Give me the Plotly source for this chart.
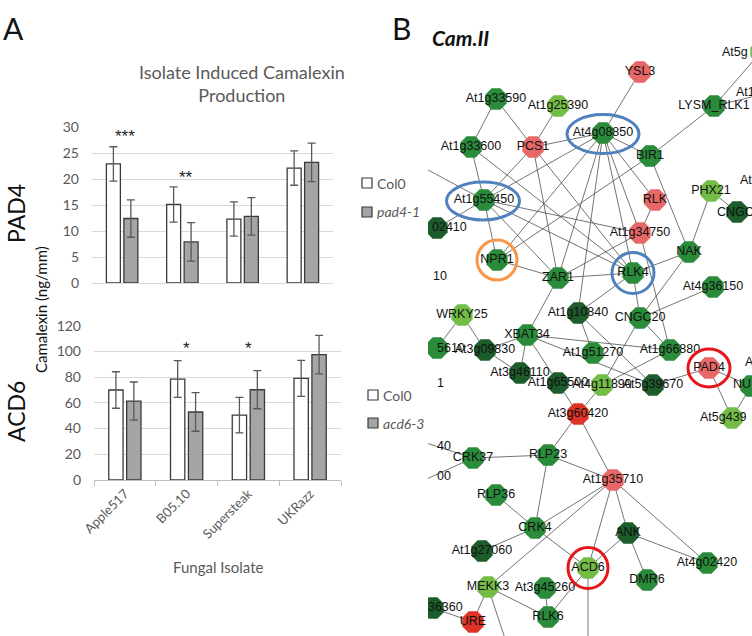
import plotly.graph_objects as go

W, H = 752, 636

# ---------------- Panel A data ----------------
isolates = ["Apple517", "B05.10", "Supersteak", "UKRazz"]
pad4_col0 = [22.9, 15.1, 12.3, 22.1]
pad4_col0_err = [3.3, 3.4, 3.3, 3.3]
pad4_mut = [12.4, 7.9, 12.8, 23.2]
pad4_mut_err = [3.6, 3.7, 3.6, 3.7]
acd6_col0 = [70.0, 78.5, 50.5, 79.1]
acd6_col0_err = [14.2, 14.3, 13.8, 14.0]
acd6_mut = [61.4, 52.9, 70.2, 97.5]
acd6_mut_err = [14.8, 15.0, 14.8, 15.0]
pad4_sig = [("Apple517", 28.1, "***", 3), ("B05.10", 20.2, "**", 4)]
acd6_sig = [("B05.10", 102.4, "*", 0), ("Supersteak", 102.4, "*", 0), ("UKRazz", 122.3, "*", -4)]
pad4_ticks = [0, 5, 10, 15, 20, 25, 30]
acd6_ticks = [0, 20, 40, 60, 80, 100, 120]

# ---------------- Panel B data (network, layout coordinates) ----------------
node_names = ["YSL3", "At1g33590", "At1g25390", "At1g33600", "PCS1", "At4g08850", "BIR1",
              "LYSM_RLK1", "At5g_top", "At1g55450", "RLK", "PHX21", "nCNGC", "n02410",
              "NPR1", "ZAR1", "At1g34750", "RLK4", "NAK", "At4g36150", "At1g10840", "CNGC20",
              "WRKY25", "n5610", "XBAT34", "At3g09830", "At1g51270", "At1g66880", "PAD4", "nNU",
              "At3g46110", "At1g65500", "At4g11890", "At5g39670", "At3g60420", "At5g439",
              "RLP23", "CRK37", "At1g35710", "RLP36", "CRK4", "ANK", "At1g27060", "ACD6",
              "At4g02420", "DMR6", "MEKK3", "At3g45260", "RLK6", "n36360", "URE"]
node_x = [640, 496, 558, 471, 533, 603, 650,
          714, 761, 484, 655, 711, 737, 437,
          497, 558, 640, 633, 689, 713, 578, 640,
          462, 437, 527, 485, 593, 670, 709, 751,
          520, 558, 602, 653, 578, 732,
          548, 473, 613, 496, 535, 628, 482, 588,
          707, 647, 488, 545, 548, 433, 473]
node_y = [72, 99, 106, 147, 147, 133, 156,
          106, 52, 200, 200, 191, 212, 228,
          260, 278, 233, 273, 252, 287, 313, 318,
          315, 348, 335, 350, 353, 350, 368, 386,
          373, 383, 385, 385, 414, 418,
          455, 458, 480, 495, 528, 533, 551, 568,
          563, 580, 587, 588, 617, 608, 622]
node_group = ["R", "G", "L", "G", "R", "G", "G",
              "G", "L", "G", "R", "L", "D", "D",
              "G", "G", "R", "G", "G", "G", "D", "G",
              "L", "G", "G", "D", "G", "G", "R", "G",
              "D", "D", "L", "D", "RR", "L",
              "G", "G", "R", "G", "G", "D", "D", "L",
              "G", "G", "L", "G", "G", "D", "RR"]
unlabeled = {"At5g_top", "nCNGC", "n02410", "n5610", "nNU", "At5g439", "n36360"}

# partially visible labels of nodes cut by the panel edge (left anchored)
frag_text = ["At5g", "At1", "At", "CNGC", "02410", "10", "5610", "1", "A", "NU",
             "At5g439", "40", "00", "g36360"]
frag_x = [722, 736, 740, 717, 432, 433, 437, 437, 745, 733, 700, 437, 437, 421]
frag_y = [53, 93, 181, 213, 228, 277, 349, 384, 363, 385, 418, 447, 477, 608]

anchor_names = ["off_r1", "off_l1", "off_l40", "off_l00", "off_b1", "off_b2"]
anchor_x = [790, 415, 420, 420, 588, 512]
anchor_y = [88, 163, 441, 482, 660, 660]

edges = [("YSL3", "At4g08850"), ("At1g33590", "At1g33600"), ("At1g33590", "PCS1"),
         ("At1g25390", "PCS1"), ("PCS1", "At4g08850"), ("PCS1", "At1g55450"),
         ("PCS1", "ZAR1"), ("PCS1", "RLK4"), ("At1g33600", "At1g55450"),
         ("At1g33600", "RLK4"), ("At4g08850", "BIR1"), ("At4g08850", "At1g55450"),
         ("At4g08850", "ZAR1"), ("At4g08850", "At1g10840"), ("At4g08850", "RLK4"),
         ("At4g08850", "At1g34750"), ("At4g08850", "RLK"), ("At4g08850", "NPR1"),
         ("BIR1", "LYSM_RLK1"), ("BIR1", "NPR1"), ("BIR1", "NAK"),
         ("LYSM_RLK1", "At5g_top"), ("LYSM_RLK1", "off_r1"), ("off_l1", "At1g55450"),
         ("At1g55450", "n02410"), ("At1g55450", "NPR1"), ("At1g55450", "ZAR1"),
         ("At1g55450", "RLK4"), ("At1g55450", "At1g34750"), ("RLK", "At1g34750"),
         ("At1g34750", "ZAR1"), ("At1g34750", "At1g66880"), ("NPR1", "ZAR1"),
         ("ZAR1", "RLK4"), ("ZAR1", "XBAT34"), ("RLK4", "NAK"), ("RLK4", "CNGC20"),
         ("RLK4", "At1g10840"), ("NAK", "CNGC20"), ("PHX21", "NAK"), ("PHX21", "nCNGC"),
         ("At4g36150", "CNGC20"), ("CNGC20", "At4g11890"), ("CNGC20", "At1g66880"),
         ("At1g10840", "At1g51270"), ("At1g10840", "At5g39670"), ("XBAT34", "At1g66880"),
         ("XBAT34", "At3g09830"), ("XBAT34", "At3g46110"), ("XBAT34", "At1g65500"),
         ("XBAT34", "At5g39670"), ("WRKY25", "At3g09830"), ("WRKY25", "n5610"),
         ("At3g09830", "At3g46110"), ("At4g11890", "At1g66880"), ("At4g11890", "At3g60420"),
         ("At1g65500", "At3g60420"), ("At5g39670", "PAD4"), ("PAD4", "nNU"),
         ("PAD4", "At5g439"), ("At5g439", "nNU"), ("At3g60420", "RLP23"),
         ("At3g60420", "At1g35710"), ("RLP23", "CRK37"), ("RLP23", "At1g35710"),
         ("RLP23", "CRK4"), ("CRK37", "off_l40"), ("CRK37", "off_l00"),
         ("At1g35710", "CRK4"), ("At1g35710", "MEKK3"), ("At1g35710", "ACD6"),
         ("At1g35710", "ANK"), ("At1g35710", "At4g02420"), ("RLP36", "CRK4"),
         ("CRK4", "At1g27060"), ("CRK4", "ACD6"), ("ANK", "ACD6"), ("ANK", "DMR6"),
         ("ANK", "At4g02420"), ("ACD6", "RLK6"), ("ACD6", "off_b1"), ("MEKK3", "RLK6"),
         ("MEKK3", "URE"), ("MEKK3", "off_b2"), ("At3g45260", "RLK6"), ("n36360", "URE")]

# highlighted genes: (node, colour, x-radius, y-radius)
highlights = [("At4g08850", "#4f81bd", 36, 19.5), ("At1g55450", "#4f81bd", 36.5, 19),
              ("NPR1", "#f79646", 20, 20), ("RLK4", "#4f81bd", 21, 20.5),
              ("PAD4", "#e8141b", 21, 19), ("ACD6", "#e8141b", 20, 20.5)]
highlight_offset = {"At4g08850": (0, 1), "At1g55450": (-1, 1)}

# ---------------- styles ----------------
GRAY_TXT = "#595959"
FONT_A = "Lato"
FONT_B = "Liberation Sans"
COL0_FILL = "#ffffff"
MUT_FILL = "#a5a5a5"
BAR_LINE = "#3a3a3a"
GROUP_COLORS = {"D": "#1d5c2b", "G": "#2a8b3b", "L": "#73bd46", "R": "#e86868", "RR": "#de3427"}

fig = go.Figure()


def add_bars(vals, errs, fill, xa, ya):
    fig.add_trace(go.Bar(
        x=isolates, y=vals, xaxis=xa, yaxis=ya,
        marker=dict(color=fill, line=dict(color=BAR_LINE, width=1.3)),
        error_y=dict(type="data", array=errs, visible=True, color=GRAY_TXT, thickness=1.3, width=4),
        showlegend=False, hoverinfo="skip"))


add_bars(pad4_col0, pad4_col0_err, COL0_FILL, "x", "y")
add_bars(pad4_mut, pad4_mut_err, MUT_FILL, "x", "y")
add_bars(acd6_col0, acd6_col0_err, COL0_FILL, "x2", "y2")
add_bars(acd6_mut, acd6_mut_err, MUT_FILL, "x2", "y2")

# ---------------- network ----------------
pos = {n: (x, y) for n, x, y in zip(node_names, node_x, node_y)}
pos.update({n: (x, y) for n, x, y in zip(anchor_names, anchor_x, anchor_y)})
ex, ey = [], []
for a, b in edges:
    ex += [pos[a][0], pos[b][0], None]
    ey += [pos[a][1], pos[b][1], None]
fig.add_trace(go.Scatter(x=ex, y=ey, mode="lines", xaxis="x3", yaxis="y3",
                         line=dict(color="#505050", width=0.8), showlegend=False, hoverinfo="skip"))
fig.add_trace(go.Scatter(
    x=node_x, y=node_y, mode="markers", xaxis="x3", yaxis="y3",
    marker=dict(symbol="octagon", size=23, color=[GROUP_COLORS[g] for g in node_group],
                line=dict(width=0)),
    showlegend=False, hoverinfo="skip"))
lab = [(n, x, y) for n, x, y in zip(node_names, node_x, node_y) if n not in unlabeled]
fig.add_trace(go.Scatter(
    x=[l[1] for l in lab], y=[l[2] for l in lab], text=[l[0] for l in lab],
    mode="text", textposition="middle center", xaxis="x3", yaxis="y3",
    textfont=dict(family=FONT_B, size=12.5, color="#111111"),
    showlegend=False, hoverinfo="skip"))
fig.add_trace(go.Scatter(
    x=frag_x, y=frag_y, text=frag_text, mode="text", textposition="middle right",
    xaxis="x3", yaxis="y3", textfont=dict(family=FONT_B, size=12.5, color="#111111"),
    showlegend=False, hoverinfo="skip"))

shapes = []
for n, c, rx, ry in highlights:
    cx, cy = pos[n]
    dx, dy = highlight_offset.get(n, (0, 0))
    cx += dx
    cy += dy
    shapes.append(dict(type="circle", xref="x3", yref="y3", x0=cx - rx, x1=cx + rx,
                       y0=cy - ry, y1=cy + ry, line=dict(color=c, width=3), layer="above"))


def px_x(v):
    return v / W


def px_y(v):
    return 1 - v / H


# legends of panel A (drawn manually)
legend_items = [("Col0", COL0_FILL, 362, 183, False), ("pad4-1", MUT_FILL, 362, 212, True),
                ("Col0", COL0_FILL, 368, 395, False), ("acd6-3", MUT_FILL, 368, 423, True)]
annotations = []
for txt_, fill, lx, ly, ital in legend_items:
    shapes.append(dict(type="rect", xref="paper", yref="paper", x0=px_x(lx), x1=px_x(lx + 10),
                       y0=px_y(ly + 5), y1=px_y(ly - 5), fillcolor=fill,
                       line=dict(color=BAR_LINE, width=1.2)))
    annotations.append(dict(xref="paper", yref="paper", x=px_x(lx + 13), y=px_y(ly),
                            xanchor="left", yanchor="middle", showarrow=False,
                            text=f"<i>{txt_}</i>" if ital else txt_,
                            font=dict(family=FONT_A, size=14, color=GRAY_TXT)))

for cat, yv, s, sh in pad4_sig:
    annotations.append(dict(xref="x", yref="y", x=cat, y=yv, text=s, showarrow=False, xshift=sh,
                            xanchor="center", yanchor="middle",
                            font=dict(family=FONT_B, size=17, color="#222222")))
for cat, yv, s, sh in acd6_sig:
    annotations.append(dict(xref="x2", yref="y2", x=cat, y=yv, text=s, showarrow=False, xshift=sh,
                            xanchor="center", yanchor="middle",
                            font=dict(family=FONT_B, size=17, color="#222222")))


def txt(x, y, s, size, color="#111111", angle=0, xanchor="center", family=FONT_A):
    return dict(xref="paper", yref="paper", x=px_x(x), y=px_y(y), showarrow=False,
                text=s, textangle=angle, xanchor=xanchor, yanchor="middle", align="center",
                font=dict(family=family, size=size, color=color))


annotations += [
    txt(242, 84, "Isolate Induced Camalexin<br>Production", 18, GRAY_TXT),
    txt(218, 567, "Fungal Isolate", 15, GRAY_TXT),
    txt(41, 310, "Camalexin (ng/mm)", 15, angle=-90),
    txt(16, 214, "PAD4", 23, angle=-90),
    txt(16, 412, "ACD6", 23, angle=-90),
    txt(13, 28, "A", 30),
    txt(401, 28, "B", 30),
    txt(430, 38, "<b><i>Cam.II</i></b>", 21, xanchor="left"),
]

grid = "#d9d9d9"
fig.update_layout(
    width=W, height=H, margin=dict(l=0, r=0, t=0, b=0, pad=0, autoexpand=False),
    paper_bgcolor="white", plot_bgcolor="white",
    barmode="group", bargap=0.42, bargroupgap=0.2,
    showlegend=False,
    xaxis=dict(domain=[px_x(92), px_x(333)], anchor="y", type="category", automargin=False,
               showticklabels=False, ticks="", showline=False, showgrid=False, fixedrange=True),
    yaxis=dict(domain=[px_y(283), px_y(127)], anchor="x", range=[0, 30], tickvals=pad4_ticks,
               automargin=False,
               gridcolor=grid, gridwidth=1, zeroline=True, zerolinecolor=grid, zerolinewidth=1,
               showline=False, ticks="", ticklabelstandoff=12,
               tickfont=dict(family=FONT_A, size=14, color=GRAY_TXT)),
    xaxis2=dict(domain=[px_x(94), px_x(341)], anchor="y2", type="category", automargin=False,
                showline=True, linecolor="#bfbfbf", linewidth=1.2, ticks="outside",
                tickson="boundaries", ticklen=5, tickcolor="#bfbfbf", tickangle=-45,
                showgrid=False, tickfont=dict(family=FONT_A, size=13, color=GRAY_TXT)),
    yaxis2=dict(domain=[px_y(480), px_y(325.7)], anchor="x2", range=[0, 120], tickvals=acd6_ticks,
                automargin=False,
                gridcolor=grid, gridwidth=1, zeroline=False, showline=False, ticks="",
                ticklabelstandoff=12, tickfont=dict(family=FONT_A, size=14, color=GRAY_TXT)),
    xaxis3=dict(domain=[px_x(428), 1], anchor="y3", range=[428, W], visible=False,
                automargin=False),
    yaxis3=dict(domain=[0, 1], anchor="x3", range=[H, 0], visible=False, automargin=False),
    shapes=shapes, annotations=annotations,
)

# remove the browser's default 8px page margin so the figure sits at the window origin
fig.write_html("out.html", config={"displayModeBar": False},
               post_script="document.body.style.margin='0';")
